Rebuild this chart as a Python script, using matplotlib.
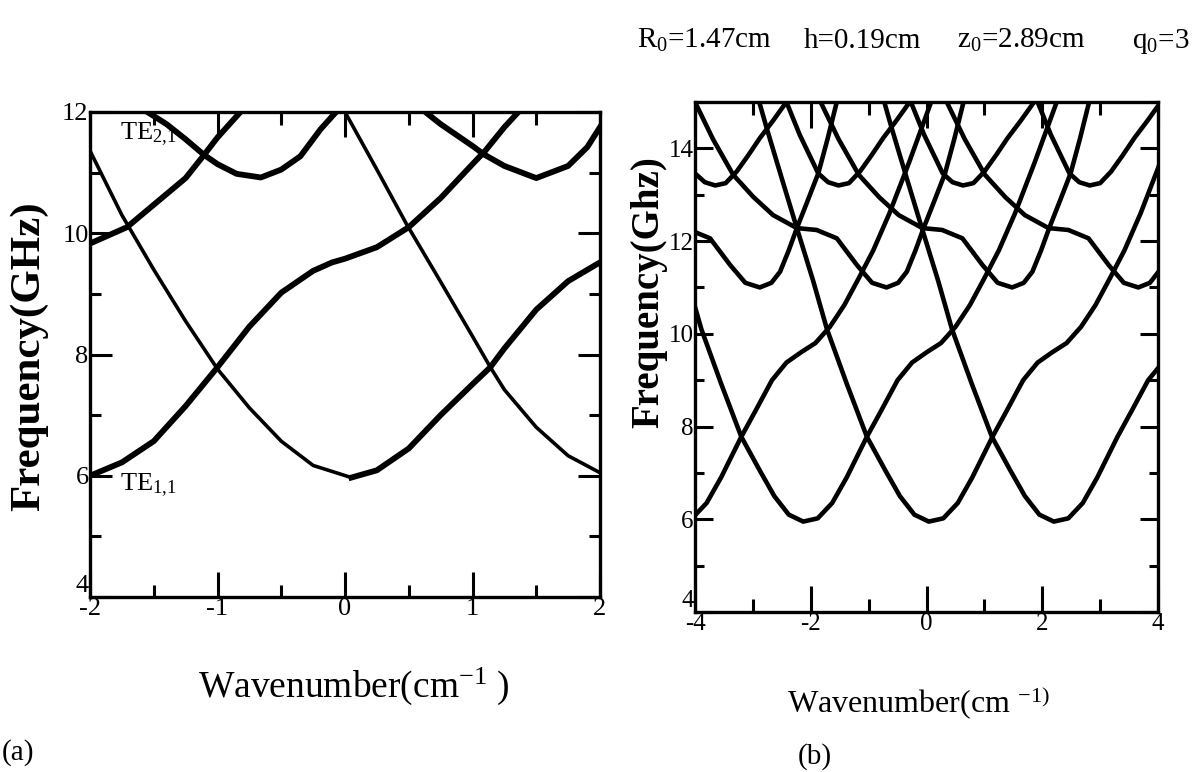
import matplotlib
matplotlib.use("Agg")
import matplotlib.pyplot as plt
from matplotlib.ticker import MultipleLocator

plt.rcParams['font.family'] = ['Liberation Serif', 'DejaVu Serif']
plt.rcParams['mathtext.default'] = 'regular'
plt.rcParams['axes.unicode_minus'] = False

W, H = 1197, 772

# ---- panel (a): wavenumber (cm^-1) vs frequency (GHz) ----
a_t1_k = [-2.0, -1.75, -1.5, -1.25, -1.0, -0.75, -0.5, -0.25, -0.1, 0.0, 0.25, 0.5, 0.75, 1.0, 1.1, 1.25, 1.36]
a_t1_f = [6.0, 6.22, 6.57, 7.15, 7.79, 8.46, 9.02, 9.38, 9.52, 9.58, 9.77, 10.1, 10.58, 11.14, 11.36, 11.75, 12.0]

a_c1v_k = [-2.0, -1.75, -1.5, -1.25, -1.0, -0.75, -0.5, -0.25, 0.05]
a_c1v_f = [11.36, 10.3, 9.4, 8.55, 7.76, 7.12, 6.57, 6.17, 5.97]
a_c1h_k = [0.05, 0.25, 0.5, 0.75, 1.0, 1.14, 1.25, 1.5, 1.75, 2.0]
a_c1h_f = [5.97, 6.09, 6.45, 7.0, 7.51, 7.79, 8.1, 8.74, 9.21, 9.52]

a_c2_k = [0.0, 0.25, 0.48, 0.75, 1.0, 1.14, 1.25, 1.5, 1.75, 2.0]
a_c2_f = [12.0, 11.05, 10.16, 9.2, 8.3, 7.79, 7.42, 6.8, 6.33, 6.05]

a_u1_k = [-2.0, -1.71, -1.5, -1.25, -1.11, -1.0, -0.82]
a_u1_f = [9.83, 10.1, 10.47, 10.91, 11.28, 11.58, 12.0]

a_u2_k = [-1.55, -1.4, -1.25, -1.11, -1.0, -0.85, -0.66, -0.5, -0.35, -0.19, -0.07]
a_u2_f = [12.0, 11.8, 11.55, 11.3, 11.14, 10.98, 10.92, 11.05, 11.27, 11.72, 12.0]

a_u3_k = [0.63, 0.75, 1.0, 1.09, 1.25, 1.5, 1.75, 1.9, 2.0]
a_u3_f = [12.0, 11.8, 11.44, 11.3, 11.11, 10.91, 11.11, 11.42, 11.75]

# ---- panel (b) ----
b_beta_k = [-4.3, -4.05, -3.8, -3.55, -3.2, -2.95, -2.67, -2.42, -2.17, -1.92, -1.67, -1.42, -1.17, -0.92, -0.64, -0.3, 0.08]
b_beta_f = [5.95, 6.02, 6.35, 6.9, 7.78, 8.35, 9.0, 9.38, 9.6, 9.8, 10.15, 10.62, 11.2, 11.8, 12.6, 13.7, 15.0]

b_m0_k = [-4.13, -3.89, -3.55, -3.2, -2.88, -2.63, -2.38, -2.13, -1.88, -1.63, -1.38, -1.03, -0.78, -0.5, -0.25,
          0.0, 0.25, 0.5, 0.75, 1.0, 1.25, 1.53, 1.87, 2.25]
b_m0_f = [11.15, 10.1, 8.93, 7.78, 7.05, 6.5, 6.1, 5.95, 6.02, 6.35, 6.9, 7.78, 8.35, 9.0, 9.38,
          9.6, 9.8, 10.15, 10.62, 11.2, 11.8, 12.6, 13.7, 15.0]

b_m1_k = [-2.89, -2.76, -2.5, -2.24, -1.96, -1.72, -1.38, -1.03, -0.71, -0.46, -0.21, 0.04, 0.29, 0.54, 0.79,
          1.14, 1.39, 1.67, 1.92, 2.17, 2.42, 2.67, 2.92, 3.17, 3.42, 3.70, 4.04]
b_m1_f = [15.0, 14.43, 13.35, 12.28, 11.15, 10.1, 8.93, 7.78, 7.05, 6.5, 6.1, 5.95, 6.02, 6.35, 6.9,
          7.78, 8.35, 9.0, 9.38, 9.6, 9.8, 10.15, 10.62, 11.2, 11.8, 12.6, 13.7]

b_m2_k = [-0.73, -0.6, -0.34, -0.08, 0.2, 0.44, 0.78, 1.13, 1.45, 1.7, 1.95, 2.2, 2.45, 2.7, 2.95, 3.3, 3.55, 3.83, 4.08]
b_m2_f = [15.0, 14.43, 13.35, 12.28, 11.15, 10.1, 8.93, 7.78, 7.05, 6.5, 6.1, 5.95, 6.02, 6.35, 6.9, 7.78, 8.35, 9.0, 9.38]

b_pw0_k = [-4.43, -4.09, -3.74, -3.39, -3.13, -2.88, -2.68, -2.53, -2.38, -2.24, -2.06, -1.87, -1.71, -1.55]
b_pw0_f = [12.28, 12.24, 12.06, 11.48, 11.1, 11.0, 11.1, 11.34, 11.8, 12.28, 12.85, 13.46, 14.2, 15.0]

b_pw1_k = [-4.0, -3.69, -3.34, -2.99, -2.65, -2.24, -1.9, -1.55, -1.2, -0.94, -0.69, -0.49, -0.34, -0.19,
           -0.05, 0.13, 0.32, 0.48, 0.64]
b_pw1_f = [15.0, 14.2, 13.43, 12.95, 12.56, 12.28, 12.24, 12.06, 11.48, 11.1, 11.0, 11.1, 11.34, 11.8,
           12.28, 12.85, 13.46, 14.2, 15.0]

b_pw2_k = [-1.83, -1.52, -1.17, -0.82, -0.48, -0.07, 0.27, 0.62, 0.97, 1.23, 1.48, 1.68, 1.83, 1.98,
           2.12, 2.30, 2.49, 2.65, 2.81]
b_pw2_f = [15.0, 14.2, 13.43, 12.95, 12.56, 12.28, 12.24, 12.06, 11.48, 11.1, 11.0, 11.1, 11.34, 11.8,
           12.28, 12.85, 13.46, 14.2, 15.0]

b_pw3_k = [0.35, 0.66, 1.01, 1.36, 1.70, 2.11, 2.45, 2.80, 3.15, 3.41, 3.66, 3.86, 4.01, 4.16]
b_pw3_f = [15.0, 14.2, 13.43, 12.95, 12.56, 12.28, 12.24, 12.06, 11.48, 11.1, 11.0, 11.1, 11.34, 11.8]

b_d0_k = [-4.55, -4.32, -4.0, -3.83, -3.65, -3.47, -3.28, -3.08, -2.88, -2.65, -2.42]
b_d1_k = [-2.42, -2.19, -1.87, -1.70, -1.52, -1.34, -1.15, -0.95, -0.75, -0.52, -0.29]
b_d2_k = [-0.27, -0.04, 0.28, 0.45, 0.63, 0.81, 1.0, 1.20, 1.40, 1.63, 1.86]
b_d3_k = [1.92, 2.15, 2.47, 2.64, 2.82, 3.0, 3.19, 3.39, 3.59, 3.82, 4.05]
b_dip_f = [15.0, 14.29, 13.46, 13.27, 13.2, 13.25, 13.5, 13.85, 14.22, 14.6, 15.0]

a_xticks = [-2, -1, 0, 1, 2]
a_yticks = [4, 6, 8, 10, 12]
b_xticks = [-4, -2, 0, 2, 4]
b_yticks = [4, 6, 8, 10, 12, 14]


def box(x0, y0, x1, y1):
    # pixel box -> figure fraction rect
    return [x0 / W, 1 - y1 / H, (x1 - x0) / W, (y1 - y0) / H]


def style(ax, xminor, yminor, xlen, ylen, size):
    for s in ax.spines.values():
        s.set_linewidth(2.4)
    ax.xaxis.set_minor_locator(MultipleLocator(xminor))
    ax.yaxis.set_minor_locator(MultipleLocator(yminor))
    ax.tick_params(which='both', direction='in', top=True, right=True, width=2.2,
                   labelsize=size, colors='black')
    ax.tick_params(axis='x', which='major', length=xlen, pad=1)
    ax.tick_params(axis='x', which='minor', length=xlen * 0.5)
    ax.tick_params(axis='y', which='major', length=ylen, pad=1)
    ax.tick_params(axis='y', which='minor', length=ylen * 0.5)
    # lowest y label sits just above the corner, as in the original
    ax.yaxis.get_major_ticks()[0].label1.set_verticalalignment('bottom')


fig = plt.figure(figsize=(W / 100, H / 100), dpi=100)

ax = fig.add_axes(box(90, 112, 600, 597))
thick, thin = 4.2, 2.6
ax.plot(a_t1_k, a_t1_f, 'k-', lw=thick)
ax.plot(a_c1v_k, a_c1v_f, 'k-', lw=thin)
ax.plot(a_c1h_k, a_c1h_f, 'k-', lw=thick)
ax.plot(a_c2_k, a_c2_f, 'k-', lw=thin)
ax.plot(a_u1_k, a_u1_f, 'k-', lw=thick)
ax.plot(a_u2_k, a_u2_f, 'k-', lw=thick)
ax.plot(a_u3_k, a_u3_f, 'k-', lw=thick)
ax.set_xlim(-2, 2)
ax.set_ylim(4, 12)
ax.set_xticks(a_xticks)
ax.set_yticks(a_yticks)
style(ax, 0.5, 1, 18, 16, 19)
ax.text(-1.765, 11.55, r'TE$_{2{,}1}$', fontsize=19, ha='left', va='baseline')
ax.text(-1.765, 5.76, r'TE$_{1{,}1}$', fontsize=19, ha='left', va='baseline')

ax = fig.add_axes(box(695, 102, 1158, 612))
lw = 3.3
for k, f in [(b_beta_k, b_beta_f), (b_m0_k, b_m0_f), (b_m1_k, b_m1_f), (b_m2_k, b_m2_f),
             (b_pw0_k, b_pw0_f), (b_pw1_k, b_pw1_f), (b_pw2_k, b_pw2_f), (b_pw3_k, b_pw3_f),
             (b_d0_k, b_dip_f), (b_d1_k, b_dip_f), (b_d2_k, b_dip_f), (b_d3_k, b_dip_f)]:
    ax.plot(k, f, 'k-', lw=lw)
ax.set_xlim(-4, 4)
ax.set_ylim(4, 15)
ax.set_xticks(b_xticks)
ax.set_yticks(b_yticks)
style(ax, 1, 1, 19, 13, 18)


# labels placed in pixel positions measured on the picture
def ftext(x, y, s, **kw):
    fig.text(x / W, 1 - y / H, s, **kw)


ftext(29, 356, 'Frequency(GHz)', rotation=90, ha='center', va='center', fontsize=31, fontweight='bold')
ftext(649, 292, 'Frequency(Ghz)', rotation=90, ha='center', va='center', fontsize=28, fontweight='bold')
ftext(198, 697, r'Wavenumber(cm$^{-1}$ )', ha='left', va='baseline', fontsize=27)
ftext(787, 713, r'Wavenumber(cm $^{-1)}$', ha='left', va='baseline', fontsize=23)
ftext(2, 760, '(a)', ha='left', va='baseline', fontsize=21)
ftext(798, 764, '(b)', ha='left', va='baseline', fontsize=21)

ftext(637, 48, r'R$_0$=1.47cm', ha='left', va='baseline', fontsize=21)
ftext(804, 48, 'h=0.19cm', ha='left', va='baseline', fontsize=21)
ftext(957, 48, r'z$_0$=2.89cm', ha='left', va='baseline', fontsize=21)
ftext(1132, 48, r'q$_0$=3', ha='left', va='baseline', fontsize=21)

fig.savefig('out.png', dpi=100)
